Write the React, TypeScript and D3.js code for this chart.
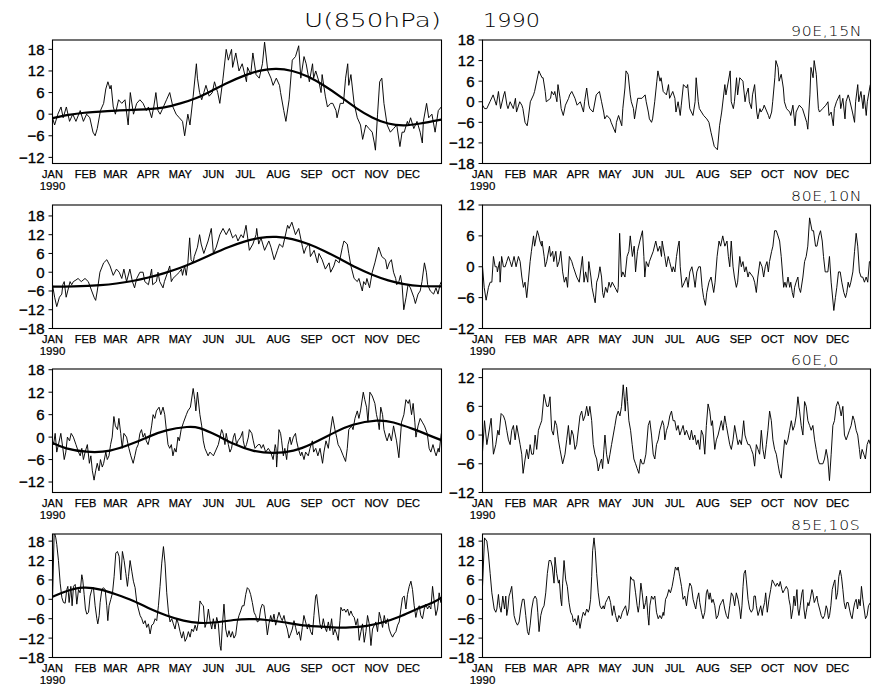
import React from "react";
import * as d3 from "d3";

// ---------- labels ----------
const TITLE = "U(850hPa)";
const YEAR = "1990";
const MONTHS = ["JAN", "FEB", "MAR", "APR", "MAY", "JUN", "JUL", "AUG", "SEP", "OCT", "NOV", "DEC"];
const MONTH_START_DAY = [0, 31, 59, 90, 120, 151, 181, 212, 243, 273, 304, 334];
const LOCATIONS = ["90E,15N", "80E,10N", "60E,0", "85E,10S"];

// ---------- y axes ----------
const TICKS_L1 = [18, 12, 6, 0, -6, -12];
const TICKS_18 = [18, 12, 6, 0, -6, -12, -18];
const TICKS_12 = [12, 6, 0, -6, -12];
const TICKS_L3 = [18, 12, 6, 0, -6, -12];
const DOMAIN_L1 = [-13.7, 20.6];
const DOMAIN_R1 = [-18, 18];
const DOMAIN_L2 = [-18, 21.5];
const DOMAIN_R2 = [-12, 12];
const DOMAIN_L3 = [-14.8, 18.2];
const DOMAIN_R3 = [-12, 13.8];
const DOMAIN_L4 = [-18, 20.2];
const DOMAIN_R4 = [-18, 20.2];

// ---------- data: [day of year, m/s] ----------
const raw90E15N = [[0,-1],[2,-3],[5,0],[8,2],[10,-1],[13,2],[16,-2],[19,0],[22,-2],[26,1],[29,-2],[32,0],[35,-1],[38,-5],[40,-6],[42,-4],[45,1],[48,3],[50,7],[52,9],[54,7],[55,8],[57,2],[59,0],[62,4],[65,3],[68,4],[71,-3],[73,6],[76,0],[79,3],[82,4],[85,3],[88,1],[90,2],[93,-1],[95,2],[97,6],[99,1],[101,0],[104,2],[107,4],[110,6],[113,2],[116,0],[119,-1],[122,-2],[124,-6],[127,0],[129,-3],[132,5],[135,14],[136,10],[138,6],[140,4],[142,6],[144,8],[147,5],[150,6],[152,9],[155,6],[157,3],[160,10],[163,18],[165,15],[166,16],[168,18],[169,13],[172,17],[175,12],[178,14],[182,9],[183,13],[186,11],[188,17],[191,11],[194,10],[197,14],[199,20],[202,12],[205,10],[207,8],[210,10],[213,8],[214,6],[217,1],[219,-2],[222,4],[225,15],[228,16],[231,19],[233,10],[236,16],[238,14],[241,9],[244,14],[245,10],[247,12],[250,9],[252,6],[253,11],[256,5],[258,2],[261,3],[263,3],[266,1],[267,-1],[270,3],[273,3],[275,10],[277,14],[278,8],[280,11],[283,3],[286,-1],[289,-3],[291,-7],[294,-3],[297,-4],[300,-5],[302,-8],[303,-10],[305,0],[307,9],[309,10],[311,3],[314,-3],[317,-5],[320,-4],[323,-3],[326,-9],[328,-5],[330,-5],[333,-2],[334,-3],[336,-1],[339,-4],[342,-2],[345,-5],[347,-8],[348,-2],[351,3],[353,-1],[356,0],[359,-5],[362,1],[364.8,2]];
const fit90E15N = [[0,-1.1],[15,-0.2],[30,0.4],[45,0.7],[60,1],[75,1.2],[90,1.4],[105,1.9],[120,3],[135,4.5],[150,6.6],[165,8.8],[180,10.7],[195,12.1],[210,12.6],[225,12],[240,10.4],[255,7.9],[270,4.9],[285,1.7],[300,-0.9],[315,-2.6],[330,-3.1],[345,-2.6],[364.8,-1.5]];
const anom90E15N = [[0,-1],[2,-2],[4,-2],[7,0],[10,2],[13,-1],[15,3],[17,-2],[20,2],[21,3],[23,-1],[24,-2],[26,0],[29,-2],[31,1],[32,-3],[35,0],[37,-1],[38,-2],[40,-6],[42,-7],[43,-5],[45,0],[48,2],[49,3],[53,9],[56,7],[57,7],[59,3],[60,0],[64,1],[65,3],[67,2],[68,3],[70,0],[71,5],[73,1],[74,-2],[76,-4],[78,-1],[81,1],[82,2],[84,3],[87,1],[89,-1],[92,0],[95,-3],[96,0],[98,4],[100,-1],[101,-2],[104,-3],[107,2],[110,3],[112,0],[114,-3],[115,-5],[117,-4],[120,-5],[121,-6],[125,-9],[126,-6],[128,-4],[131,-7],[132,-2],[134,4],[135,9],[137,8],[139,2],[140,0],[142,-2],[143,-5],[146,1],[150,1],[153,2],[154,0],[156,-3],[157,-5],[159,-6],[160,-5],[162,0],[164,6],[165,9],[167,6],[168,7],[170,3],[173,2],[175,5],[176,1],[179,3],[181,1],[182,-3],[184,0],[186,-4],[187,-1],[189,5],[192,4],[193,5],[195,-2],[198,-4],[200,0],[201,7],[203,0],[204,-2],[208,-4],[211,-5],[213,-6],[215,-9],[218,-13],[221,-14],[223,-7],[224,-5],[225,-3],[228,5],[229,2],[233,9],[234,0],[236,-2],[237,0],[239,7],[240,2],[242,7],[245,6],[247,0],[248,2],[250,4],[251,0],[253,-2],[254,2],[256,5],[258,-3],[259,-5],[261,-2],[262,-3],[264,-2],[265,-1],[269,-4],[270,-5],[272,-3],[273,0],[275,7],[276,12],[278,10],[279,6],[281,8],[283,4],[284,0],[286,-2],[289,-3],[290,-4],[292,-1],[294,-7],[295,-3],[298,-1],[301,-2],[305,-6],[306,-8],[308,2],[309,10],[311,7],[312,12],[314,8],[316,-2],[317,-3],[320,-2],[323,-1],[325,0],[326,-4],[328,-3],[330,-7],[331,-2],[333,0],[336,2],[337,-2],[339,1],[341,-5],[342,0],[344,2],[345,1],[348,-3],[350,-6],[351,0],[353,5],[354,0],[356,3],[358,-2],[359,2],[361,-4],[362,0],[364.8,5]];

const raw80E10N = [[0,-4],[2,-8],[4,-11],[6.5,-8],[8.7,-7],[9.7,-4],[11,-3],[12.8,-8],[15,-5],[16.5,-3],[18,-4],[19.6,-3],[22,-2.5],[24,-2],[27,-3],[30.5,-2],[33.6,-3],[36.8,-6],[39,-8],[40.5,-9],[42,-6],[44.5,0],[48,3],[51,4],[54,2],[57,-1],[60,1],[62.6,0],[65,-2],[67,1],[69.5,-3],[72.6,1],[75,-3],[77,-5],[79,-2],[82,0],[85,0],[86.6,-3],[90,-4],[93,1],[94,-4],[97.5,-3],[99,0],[100.6,-3],[103.7,-5],[105,-3],[108,0],[110,2],[111.5,-3],[113,-2],[116,-1],[119,0],[121,1],[122,-1],[124,2],[125.5,-1],[127,3],[128.7,11],[130,4],[132,3],[133,5],[136,8],[138,12],[139.5,9],[142,6],[144,8],[146,10],[149,14],[151,6],[153.6,8],[157,12],[160,14],[163,12],[166,14],[169,11],[172,12],[174,10],[177,12],[179,11],[181.6,15],[184.7,7],[188,9],[191,12],[191.6,14],[193.5,9],[195.6,11],[199,7],[203,10],[205,8],[208,4],[211,7],[213,9],[216,8],[218,11],[220.6,15],[222,14],[224.6,16],[228,12],[231,14],[234.6,8],[236,6],[238,8],[241,9],[242,5],[245.5,7],[248.6,3],[250,6],[253,4],[256,1],[259.5,3],[261,0],[264,2],[265.7,4],[269,3],[272,8],[273.5,10],[276.6,9],[278,6],[280,2],[283,-2],[286,-3],[287.5,-2],[290.7,-6],[292,-3],[293.8,-4],[295,-2],[297.5,-5],[300,0],[302.5,3],[306,8],[309,5],[312.5,4],[314,1],[316,3],[318,4],[320,0],[322,-2],[323,-4],[325,-3],[326.5,-1],[328,-4],[329.6,-12],[331.8,-8],[333.6,-4],[335.8,-5],[339,-8],[340.5,-10],[343,-7],[345,-6],[346.7,-3],[349,3],[350.8,0],[352,-4],[354.5,-6],[357.6,-7],[359.8,-5],[361.7,-7],[363.6,-4],[364.8,-3]];
const fit80E10N = [[0,-4.6],[20,-4.5],[45,-4.1],[60,-3.6],[75,-2.8],[90,-1.7],[105,-0.3],[120,1.4],[135,3.5],[150,5.8],[165,8],[180,9.8],[195,11],[210,11.3],[225,10.6],[240,9],[255,6.8],[270,4.2],[285,1.5],[300,-0.8],[315,-2.6],[330,-3.8],[345,-4.4],[364.8,-4.5]];
const anom80E10N = [[0,0],[1.6,-4],[3.4,-6.5],[5.6,-4],[7.2,-3],[8.8,-3],[10.3,2],[11.9,0],[13.5,0],[14,-1],[16,1],[16.6,-3],[18,2],[19.7,0],[21.3,0],[22.8,1],[24.4,2],[26,1],[27.5,0],[29.7,2],[31.6,0],[33.8,2],[35.4,1],[37,-2],[38.5,-4],[40,-3],[41.6,-6],[43,-3],[44.8,1],[46,3],[48,6],[49,4],[51.6,7],[53,6],[54,5],[55.7,4],[56,5],[58,2],[59,0],[60.4,1],[63,4],[64,2],[66,3],[67,1],[69,3],[70.4,0],[72,1],[73.6,3],[75.4,-1],[77,-3],[78.6,-2],[80,-4],[81.7,2],[84,1],[85.4,0],[88.6,-2],[91,-3],[94,2],[95.5,-3],[97,-1],[99,-3],[100,1],[102,-2],[103,-4],[104.9,-6],[106,-7],[107.4,-3],[109,-2],[110.5,0],[112,-2],[113,-5],[114,-6],[115.8,-4],[117.4,-5],[119,-3],[120.5,-4],[122,-3],[124.6,-4],[127,-5],[127.7,-4],[129,6.5],[130.7,-2],[132,-1],[134,-2],[136,2],[137.7,3],[139,6],[141,2],[142.7,4],[144,-1],[145.8,3],[148,5],[150.5,7],[151.8,2],[152.7,-2],[154,1],[156,0],[157,1],[160.6,3],[163,5],[165,3],[166.8,4],[168.4,2],[169,5],[171.5,2],[173,0],[174.7,2],[176,1],[178.4,-1],[179.4,0],[181,-1],[182.5,2],[184,4],[185,5],[186,0],[187.8,-4],[190,-3],[191.9,-2],[193.4,-4],[195,-1],[197,0],[198.7,-2],[200,-4],[201.6,-1],[203.4,0],[205,0],[206.6,-4],[208,-6],[209.7,-7.5],[211,-5],[213,-3],[215,-2],[217.5,-5],[218.8,-3],[220.7,2],[222.5,5],[224,4],[226,6],[228,4],[230,5],[231.3,2],[232.6,0],[234,5],[235.7,0],[237,-2],[238.8,-4],[240,-3],[242,2],[243.5,0],[245,1],[246.6,-1],[248,0],[249.8,-2],[251,-1],[254.5,-2],[256,-3],[257.6,-5],[259,-2],[261,1],[263,0],[264.5,-2],[266,0],[267.6,1],[268.9,-1],[270,1],[272,3],[273.2,4],[274.8,7],[276.4,7],[278,6],[279.5,5],[281,2],[283.3,-4],[284.5,-3],[285.8,-4],[287.4,-2],[289,-4],[290,-3],[291.4,-5],[292.6,-6],[293.6,-4],[295,-3],[296.7,-2],[297.6,-4],[299.2,-5],[301.4,-2],[303,1],[304.5,2],[306,4],[307.7,9.5],[310,7],[311.4,7],[313.3,4],[314.6,4],[316.4,6],[318,7],[319.6,5],[320.8,2],[322.4,-1],[324,-1],[324.9,-1],[326.4,2],[328,-3],[330.5,-8.5],[332,-6],[333.3,-4],[334.9,-1],[336.5,-1],[338,-3],[339.9,-5],[341.5,-6],[342.7,-5],[344,-3],[345.2,-4],[346.5,-3],[348.4,-1],[350,3],[351.5,6.5],[353,4],[354.6,-1],[356.2,-2],[357.7,-2],[359.3,-3],[360.9,-2],[362.4,-3],[364,1],[364.9,1]];

const raw60E0 = [[0,-1],[1,-2],[2.5,1],[4,-4],[5.6,-2],[7.8,1],[9.7,-3],[11,-6],[12.5,-4],[14,0],[16,-1],[17.5,1],[19.6,0],[22,-2],[24.4,-4],[26,-5],[27.5,-3],[29,-6],[30.6,-4],[32.7,-2],[34.6,-7],[36,-5],[37.4,-9],[39,-11.5],[40.5,-9],[42,-7],[43.6,-9],[45,-6],[46.7,-8],[48,-7],[50,-4],[51.4,-6],[53,-5],[54.5,-2],[56,0],[57.6,5.5],[59,3],[61,2],[62.3,5],[64,1],[65.4,-3],[67,1],[69.5,0],[71.7,-3],[73.5,-5],[75.7,-7],[77.3,-5],[78.8,-3],[80.4,-2],[82,1],[83.5,2],[85,0],[86.6,1],[88,-1],[89.7,-2],[91.3,0],[93,3],[94.4,6],[96,5],[97.5,7],[100,8],[101.6,6],[103.7,8],[105.3,6],[106.8,2],[108.4,-2],[110,-3],[111.5,-2],[113,-5],[114.6,-3],[116,-4],[117.7,0],[119,-1],[120.7,2],[123,4],[125.6,6],[127,7],[129.4,8],[132,13],[133.5,10],[134.5,7],[136,12],[138.3,6],[140,3],[141.5,-1],[143,-3],[146,-5],[147.7,-4],[151,-5],[155.6,-2],[158.7,2],[160,1],[161.8,-2],[163,1],[165,-2],[166.5,-4],[168,-3],[169.7,0],[171,1],[172.8,-2],[174,-1],[176.5,0],[178.4,1.5],[179,-1],[180.6,-3],[182,-2],[183.8,0],[184.7,2],[187,1],[188.4,-1],[190,-3],[193,-2],[194.7,-2],[196,-3],[197.8,-2],[200,-4],[202.5,-3],[204.7,-4],[207,-6],[209,-2],[209.7,-3],[210.3,-8],[211,-5],[212.5,2],[214,1],[215,-1],[216.6,-5],[218,-3],[219.7,-6],[221,-2],[222.8,0],[224,-2],[226,0],[228,1],[229,-1],[230.6,-3],[232.8,-5],[234,-4],[236,-6],[237.5,-4],[240,-5],[241.6,-3],[243.8,-1],[245,-4],[247,-3],[249,-5],[251,-3],[253.4,-7],[254.7,-4],[256.6,-1],[258.8,-3],[260,0],[262.8,5.5],[265,2],[266.6,0],[268,-2],[270,-3],[272.8,-5],[275,-6.5],[276.6,-3],[278,2],[280.6,3],[282,2],[283.8,5],[286,7],[287.5,5],[289,7],[291.6,12],[293,10],[294.7,8],[296,4],[297.8,12],[300,11],[302.5,9],[304,6],[305.6,4],[306.6,2],[308,8],[309.7,6],[311,2],[312.8,0],[314,-1],[316,1],[318,-1],[320,3],[322.8,-1],[325,-5.5],[327.5,4],[329.7,6],[331.6,10],[333.8,9],[335,10],[336.9,6],[338.4,9],[340,4],[341,0],[343,3],[345,5],[347,4],[349,3],[351.6,1],[353.4,-3],[355,-4],[357,-2],[358.8,-4],[360,-5],[361.9,-3],[362.8,-4],[364,-1],[364.8,1]];
const fit60E0 = [[0,-1.6],[13,-3],[32,-3.9],[54,-3.6],[76,-1.6],[91,0.2],[107,1.8],[126,2.7],[138,2.4],[154,0.5],[170,-1.8],[188,-3.6],[207,-4.2],[226,-3.6],[244,-1.7],[263,1],[282,3.3],[304,4.4],[320,3.9],[338,2.2],[354,0.4],[364.8,-0.8]];
const anom60E0 = [[0,-3.5],[1.9,3],[4.1,-2],[8.1,3.5],[10.3,-4],[12.5,-2],[14.4,1],[15.6,0],[17.5,4.5],[19.7,4],[21.3,3],[22.8,1],[24.4,-1],[26,-2],[27.5,1],[29.1,2],[30.7,-1],[32.2,2],[33.8,0],[35.4,-2],[36.9,-4],[38.2,-8],[40.1,-5],[41.6,-3],[43.2,-5],[44.8,-2],[46.3,-4],[47.9,-4],[49.5,0],[51,-3],[52.6,1],[54.1,2],[55.7,3],[57.9,8.5],[60.4,6],[62,6],[63.5,8],[65.1,1],[66.7,0],[68.2,3],[69.8,2],[71.4,-1],[72.9,-3],[75.4,-6],[77.6,-4],[79.2,-1],[80.8,2],[82.3,-2],[83.9,1],[85.4,0],[87,-3],[88.6,-2],[91.7,4],[93.3,5],[94.8,3],[96.4,4],[98,6],[99.5,4],[101,6],[102.7,3],[104.2,-2],[105.8,-4],[107.4,-5],[108.9,-7.5],[110.5,-6],[112,-5],[113,-7],[114.2,-3],[115.2,0],[116.7,-4],[118.3,-6],[119.9,-4],[121.4,-2],[123,0],[124.6,2],[126.1,4],[127.7,5],[129.3,4],[130.8,6],[132.4,10.5],[133.3,8],[134.3,5],[135.5,10],[136.5,7],[137.7,3],[139.3,1],[140.8,-2],[142.4,-5],[144,-6],[145.5,-7],[147.1,-8],[148.7,-5],[150.2,-6],[151.8,-6],[153.7,-4],[155.9,2],[157.4,3],[159,0],[160.6,-4],[162.1,-5],[163.7,-2],[165.3,-1],[166.8,1],[169.3,3],[170.6,2],[171.5,-1],[173.1,1],[174.6,2],[176.2,4],[177.8,5],[179.3,3],[180.9,3],[182.5,1],[184,2],[185.6,0],[187.2,1],[188.7,2],[190.3,0],[191.9,1],[193.4,0],[195,-1],[196.6,1],[198.1,-1],[199.7,0],[201.3,-2],[202.8,-1],[204.4,-3],[205.9,1],[207.5,0],[209.1,-4],[210.6,2],[212.2,6.5],[213.8,5],[215.3,2],[216.3,3],[218.5,-3],[220,-1],[221.6,0],[224.7,3],[226.3,1],[227.9,4],[229.4,2],[231,0],[232.6,-2],[234.1,-3],[235.7,-1],[237.2,2],[238.8,0],[240.4,-2],[241.9,-1],[243.5,-2],[245.7,3],[246.9,0],[248.2,-1],[249.8,-2],[251.3,-2],[252.9,-3],[254.5,-4],[256,-6.5],[257.6,-2],[259.2,-3],[260.7,-4],[262.3,1],[263.8,-3],[265.4,-5],[267,-2],[268.5,1],[270.1,5],[271.7,3],[273.2,-1],[274.8,-3],[276.4,-4],[277.9,-6],[279.5,-8],[281.1,-9],[282.6,-5],[284.2,-1],[285.8,-2],[287.3,-1],[288.9,1],[290.5,3],[292,1],[293.6,2],[295.1,4],[296.7,8],[298.3,5],[299.8,2],[301.4,0],[303,7],[304.5,6],[306.1,3],[307.7,2],[309.2,1],[310.8,2],[312.4,-1],[313.9,-3],[315.5,-5],[317,-6],[320.2,-6],[321.7,-5],[323.3,-3],[324.9,-5],[326.4,-9.5],[328,-4],[329.6,2],[331.1,3],[332.7,6],[334.3,7],[335.8,6],[337.4,4],[339,6],[340.5,0],[342.1,-1],[343.7,0],[345.2,1],[346.8,2],[348.4,4],[349.9,3],[351.5,1],[353,0],[354.6,-3],[355.6,-5],[357.1,-3],[358.7,-4],[360.2,-5],[361.8,-2],[363.4,-1],[364.9,-2]];

const raw85E10S = [[0,0],[1.6,21],[3.1,19],[4,17],[5.6,12],[7.2,5],[8.8,0.5],[10.3,-1],[11.9,-1.2],[13.4,3],[14.4,4],[15.6,-1],[17.2,4],[18.4,-2],[19.7,4],[21.3,4.6],[22.8,-1.5],[24.4,3],[25.9,2],[27.5,7.6],[28.4,6],[29.7,1.5],[30.9,-3],[32.2,-4.6],[33.8,-4],[35.3,1],[36.9,3],[38.4,3.6],[40,-2],[41.6,-6],[42.5,-7.6],[43.8,-5],[44.7,-1],[46.3,3],[47.8,3.6],[49.4,3],[50.9,-2],[51.9,-6.6],[53.1,-2],[54.7,0],[56.3,2],[57.8,7],[59.4,14.3],[60.9,14.8],[62.5,13.3],[64.1,6],[65.6,14.8],[67.2,12],[68.8,8],[70.3,4],[71.3,7],[72.8,12],[74.4,8.7],[75.9,5.6],[77.5,3.6],[79.1,-1],[80.6,-3],[82.2,-5],[83.8,-6],[85.3,-7.6],[86.9,-6.6],[88.4,-8.7],[90,-7.6],[91.6,-10.7],[93.1,-8],[94.7,-7.6],[96.3,-6],[97.8,-6.6],[99.4,-2],[100.9,4],[102.5,11.2],[104.1,16.3],[105.6,11.2],[107.2,2],[108.8,-4],[110.3,-7],[111.9,-6],[113.4,-7.6],[115,-9.2],[116.6,-6],[118.1,-7.6],[119.7,-10],[121.3,-12],[122.8,-10],[124.4,-13],[125.9,-12],[127.5,-10],[129.1,-11.7],[130.6,-9.2],[132.2,-10],[133.8,-8],[135.3,-9.7],[136.9,-7],[138.4,-0.5],[140,-1.5],[141.6,-2],[143.1,-8.7],[144.7,-7],[146.3,-3],[147.8,-6.6],[149.4,-9.2],[150.9,-6],[152.5,-9.2],[154.1,-5.6],[155.6,-7.6],[157.2,-14.3],[158.1,-15.8],[159.4,-8],[160.9,-1.5],[162.5,-9.2],[164.1,-11.7],[165.6,-9.7],[167.2,-11.7],[168.8,-10],[170.3,-12],[171.9,-11],[173.4,-7],[175,-5],[176.6,-3.6],[178.1,-2],[179.7,-2],[181.3,1.5],[182.8,3.6],[184.4,3],[185.9,1.5],[187.5,-1],[189.1,-4],[190.6,-5],[192.2,-7],[193.8,-6.6],[195.3,-3],[196.9,-1.5],[198.4,-2],[200,-6],[201.6,-11],[203.1,-7.6],[204.7,-5],[206.3,-7],[207.8,-4.6],[209.4,-8],[210.9,-6],[212.5,-4],[214.1,-5.6],[215.6,-6.6],[217.2,-5],[218.8,-7.6],[220.3,-9.2],[221.9,-12],[223.4,-10.7],[225,-9.2],[226.6,-6.6],[228.1,-8.7],[229.7,-11],[231.3,-10],[232.8,-12.7],[234.4,-8.7],[235.9,-5],[237.5,-7],[239.1,-9.2],[240.6,-7.6],[242.2,-10],[243.8,-11],[245.3,-5],[246.9,1],[247.8,1.5],[249.4,-3],[250.9,-7.6],[252.5,-9.2],[254.1,-6],[255.6,-8.7],[257.2,-10],[258.8,-7],[260.3,-9.7],[261.9,-6],[263.4,-11],[265,-9.2],[266.6,-10.7],[268.1,-12.7],[269.7,-6.6],[270.6,-2.5],[272.2,-3.6],[273.8,-3],[275.3,-4],[276.9,-3],[278.4,-5],[280,-3.6],[281.6,-5],[283.1,-5.6],[284.7,-8],[286.3,-6],[287.8,-12.7],[289.4,-10],[290.9,-7.6],[292.5,-13.3],[294.1,-10],[295.6,-5],[297.2,-7.6],[298.8,-14.3],[300.3,-9.2],[301.9,-8],[303.4,-7],[305,-10],[306.6,-4],[308.1,-6],[309.7,-8.7],[311.3,-5],[312.8,-7.6],[314.4,-6],[315.9,-9.2],[317.5,-10.7],[319.1,-11.7],[320.6,-10.7],[322.2,-10],[323.8,-8],[325.3,-7],[326.9,-3],[328.4,0.5],[330,1],[331.6,-3],[333.1,1.5],[334.7,4],[336.3,5.6],[337.8,3],[339.4,-2],[340.9,-5.6],[342.5,-3],[344.1,-2],[345.6,-5],[347.2,-6],[348.8,-3],[350.3,-1.5],[351.9,-3],[353.4,-2],[355,-3],[356.6,4],[358.1,-0.5],[359.7,-5],[361.3,-3],[362.8,2],[364.4,-1],[364.9,0.5]];
const fit85E10S = [[0,0.8],[13,2.5],[29,3.6],[45,3],[60,1.5],[76,-0.5],[92,-3],[107,-5],[123,-6.6],[138,-7.3],[154,-7.1],[170,-6.4],[185,-6.1],[201,-6.4],[217,-7.1],[232,-7.9],[248,-8.4],[263,-8.7],[279,-8.7],[295,-8.2],[310,-7.1],[326,-5.3],[342,-3],[357,-1],[364.8,0.5]];
const anom85E10S = [[0,4],[1.9,19],[4.1,18],[5.6,14],[7.2,8],[8.8,2],[11,-3],[12.5,-4],[13.5,-3],[15,1.5],[16,-2],[17.5,-4],[19.1,1],[20.7,-3],[21.9,1],[22.8,-5],[23.8,-3],[25,1],[26,2],[27.5,4],[28.5,0],[29.7,-5],[31.3,-7],[32.9,-8],[34.4,-7],[36,-3],[37.6,0],[39.1,0],[40.7,-5],[42.3,-10],[43.5,-11],[44.8,-8],[46.3,-3],[47.9,0],[49.5,1],[51,0],[52,-4],[53.2,-10],[54.8,-5],[56.3,-3],[57.9,-2],[59.5,2],[61,8],[62.6,12],[64.2,12],[65.7,10],[67.3,5],[68.2,13],[69.8,8],[71.4,5],[72.3,6],[73.6,0],[74.5,-2],[75.4,5],[76.7,12],[78.3,6],[79.8,4],[81.4,-1],[82.9,-4],[84.5,-5],[85.4,-7],[87,-6],[88.6,-8],[90.1,-5],[91.7,-9],[93.3,-6],[94.8,-4],[96.4,-5],[98,-3],[99.5,-4],[100.5,-3],[101.7,0],[102.7,7],[103.6,15],[104.9,19],[106.1,15],[107.4,8],[108.9,2],[110.5,-2],[112.1,-3],[113.6,-2],[114.6,-3],[115.8,-1],[117.4,0],[118.9,1],[120.5,-1],[122.1,-5],[123.6,-2],[125.2,-5],[126.8,-7],[128.3,-5],[129.9,-6],[131.5,-4],[133,-3],[134.6,-2],[136.2,-5],[137.7,-3],[139.3,7],[140.9,6],[142.4,6],[144,2],[145.5,-2],[146.5,-4],[147.4,-2],[149,5],[150.2,2],[151.8,-3],[153.4,-1],[154.3,1],[155.6,-5],[156.5,-8],[157.4,-2],[159,1],[160.6,0],[162.1,1],[163.7,-4],[165.3,-6],[166.8,-5],[168.4,-6],[170,-4],[170.6,-5],[172.2,0],[173.7,1],[175.3,3],[176.8,2],[178.4,4],[180,7],[181.5,10],[183.1,9],[184,10],[185.6,7],[187.2,4],[188.7,0],[190.3,1],[191.9,-2],[193.4,2],[195,5],[196.6,4],[198.1,0],[199.7,-2],[200.6,-3],[201.9,0],[203.4,2],[204.4,-1],[206,-4],[207.5,-6],[209.1,-4],[210.6,2],[211.6,3],[213.2,0],[214.1,2],[215.7,-1],[216.9,0],[218.5,-2],[220,-6],[221.6,-5],[223.2,-2],[224.7,-1],[226.3,0],[227.9,-3],[229.4,-5],[231,-6],[232.6,-2],[234.1,2],[235.7,1],[237.2,-2],[238.8,2],[240.4,0],[241.9,-3],[242.9,-6],[244.1,-2],[245.1,4],[246,8],[247.3,9],[248.2,6],[249.8,0],[251.3,-3],[252.9,-4],[254.5,-3],[255.4,1],[256.7,1],[257.6,-2],[259.2,-5],[260.1,-4],[261.7,-2],[263.2,-5],[263.9,-3],[265.4,-1],[266.4,2],[267.9,-4],[269.5,0],[271.1,3],[272.6,6],[274.2,5],[275.8,4],[277.3,5],[278.9,4],[280.1,5.5],[281.7,3],[282.6,2],[284.2,3],[285.8,4],[287.3,3],[288.3,0],[289.5,-2],[290.5,-6],[292,-3],[293,1],[294.2,-2],[295.8,3],[296.7,-3],[297.7,-5],[298.9,-2],[300.5,2],[301.4,3],[302.4,-3],[303.6,-6],[304.5,-4],[306.1,-1],[307,-2],[308.3,0],[309.9,3],[310.8,2],[312.1,-1],[313.3,0],[314.6,1],[315.5,-1],[317.1,-3],[318.6,-5],[320.2,-6],[321.8,-5],[323.3,-2],[324.3,-3],[325.5,-6],[326.5,-5],[327.7,-2],[329,3],[330.5,5],[331.5,6],[332.7,0],[334,2],[335.2,7],[336.5,9],[337.7,7],[339,3],[340.2,-1],[341.5,-3],[342.7,-1],[344,-1],[345.2,-3],[346.5,-5],[347.7,-6],[349,-3],[350.2,-1],[351.5,0],[352.8,-3],[354,0],[355.3,-2],[356.5,4],[357.8,0],[359,-3],[360.3,-6],[361.8,-5],[363.1,-2],[364.9,-1]];

// ---------- layout ----------
const W = 872;
const H = 687;
const COL_X = [52.5, 482.5];
const COL_W = [389, 388];
const ROW_Y = [40, 205, 369, 534];
const PANEL_H = 123.5;
const DAYS = 365;

const PANELS = [
  { row: 0, col: 0, domain: DOMAIN_L1, ticks: TICKS_L1, series: raw90E15N, fit: fit90E15N, label: null },
  { row: 0, col: 1, domain: DOMAIN_R1, ticks: TICKS_18, series: anom90E15N, fit: null, label: LOCATIONS[0] },
  { row: 1, col: 0, domain: DOMAIN_L2, ticks: TICKS_18, series: raw80E10N, fit: fit80E10N, label: null },
  { row: 1, col: 1, domain: DOMAIN_R2, ticks: TICKS_12, series: anom80E10N, fit: null, label: LOCATIONS[1] },
  { row: 2, col: 0, domain: DOMAIN_L3, ticks: TICKS_L3, series: raw60E0, fit: fit60E0, label: null },
  { row: 2, col: 1, domain: DOMAIN_R3, ticks: TICKS_12, series: anom60E0, fit: null, label: LOCATIONS[2] },
  { row: 3, col: 0, domain: DOMAIN_L4, ticks: TICKS_18, series: raw85E10S, fit: fit85E10S, label: null },
  { row: 3, col: 1, domain: DOMAIN_R4, ticks: TICKS_18, series: anom85E10S, fit: null, label: LOCATIONS[3] },
];

const TICK_FONT = "'Liberation Sans', Arial, Helvetica, sans-serif";
const THIN_FONT = "'DejaVu Sans', 'Liberation Sans', sans-serif";

function Panel({ p, idx }: { p: any; idx: number }) {
  const x0 = COL_X[p.col];
  const w = COL_W[p.col];
  const y0 = ROW_Y[p.row];
  const x = d3.scaleLinear().domain([0, DAYS]).range([x0, x0 + w]);
  const y = d3.scaleLinear().domain(p.domain).range([y0 + PANEL_H, y0]);
  const line = d3.line<number[]>().x((d) => x(d[0])).y((d) => y(d[1])).curve(d3.curveLinear);
  const smooth = d3.line<number[]>().x((d) => x(d[0])).y((d) => y(d[1])).curve(d3.curveNatural);
  const clipId = `clip-${idx}`;
  const bottom = y0 + PANEL_H;
  return (
    <g>
      <defs>
        <clipPath id={clipId}>
          <rect x={x0} y={y0} width={w} height={PANEL_H} />
        </clipPath>
      </defs>
      <g clipPath={`url(#${clipId})`}>
        <path d={line(p.series) || ""} fill="none" stroke="#000" strokeWidth={0.95} strokeLinejoin="round" />
        {p.fit && (
          <path d={smooth(p.fit) || ""} fill="none" stroke="#000" strokeWidth={2.2} />
        )}
      </g>
      <rect x={x0} y={y0} width={w} height={PANEL_H} fill="none" stroke="#000" strokeWidth={1.1} />
      {p.ticks.map((t: number) => (
        <g key={t}>
          <line x1={x0 - 4} x2={x0} y1={y(t)} y2={y(t)} stroke="#000" strokeWidth={1} />
          <text
            x={x0 - 8}
            y={y(t)}
            dy="0.36em"
            textAnchor="end"
            fontFamily={TICK_FONT}
            fontSize={15}
            fill="#000"
            stroke="#000"
            strokeWidth={0.35}
          >
            {t < 0 ? "\u2212" + Math.abs(t) : String(t)}
          </text>
        </g>
      ))}
      {MONTHS.map((m, i) => (
        <text
          key={m}
          x={x(MONTH_START_DAY[i])}
          y={bottom + 14}
          textAnchor="middle"
          fontFamily={TICK_FONT}
          fontSize={11}
          fill="#000"
          stroke="#000"
          strokeWidth={0.25}
        >
          {m}
        </text>
      ))}
      <text
        x={x0}
        y={bottom + 26.5}
        textAnchor="middle"
        fontFamily={TICK_FONT}
        fontSize={11.5}
        fill="#000"
        stroke="#000"
        strokeWidth={0.2}
      >
        {YEAR}
      </text>
      {p.label && (
        <text
          transform={`translate(791,${y0 - 4}) scale(1.12,1)`}
          fontFamily={THIN_FONT}
          fontWeight={200}
          fontSize={14}
          letterSpacing={0.6}
          fill="#000"
        >
          {p.label}
        </text>
      )}
    </g>
  );
}

export default function App() {
  return (
    <svg
      width={W}
      height={H}
      viewBox={`0 0 ${W} ${H}`}
      style={{ position: "absolute", left: 0, top: 0, background: "#fff" }}
    >
      <rect x={0} y={0} width={W} height={H} fill="#fff" />
      <text
        x={304}
        y={27}
        fontFamily={THIN_FONT}
        fontWeight={200}
        fontSize={20}
        textLength={137}
        lengthAdjust="spacingAndGlyphs"
        fill="#000"
      >
        {TITLE}
      </text>
      <text
        x={483}
        y={27}
        fontFamily={THIN_FONT}
        fontWeight={200}
        fontSize={20}
        textLength={57}
        lengthAdjust="spacingAndGlyphs"
        fill="#000"
      >
        {YEAR}
      </text>
      {PANELS.map((p, i) => (
        <Panel key={i} p={p} idx={i} />
      ))}
    </svg>
  );
}
